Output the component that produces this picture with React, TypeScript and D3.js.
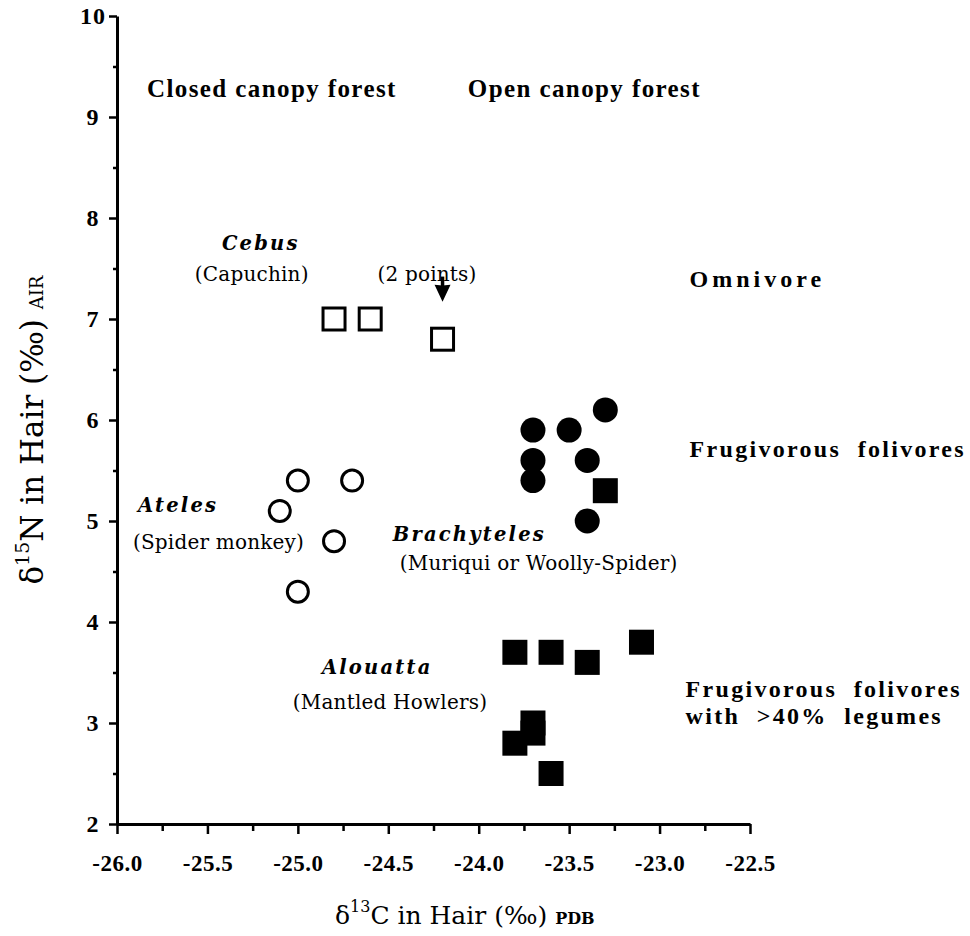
import React, { useEffect, useRef } from "react";
import * as d3 from "d3";

// Isotope values: [d13C, d15N]
const cebus: [number, number][] = [
  [-24.8, 7.0],
  [-24.6, 7.0],
  [-24.2, 6.8],
];
const ateles: [number, number][] = [
  [-25.0, 5.4],
  [-24.7, 5.4],
  [-25.1, 5.1],
  [-24.8, 4.8],
  [-25.0, 4.3],
];
const brachyteles: [number, number][] = [
  [-23.7, 5.9],
  [-23.5, 5.9],
  [-23.3, 6.1],
  [-23.7, 5.6],
  [-23.4, 5.6],
  [-23.7, 5.4],
  [-23.4, 5.0],
];
const brachytelesSquare: [number, number][] = [[-23.3, 5.3]];
const alouatta: [number, number][] = [
  [-23.8, 3.7],
  [-23.6, 3.7],
  [-23.4, 3.6],
  [-23.1, 3.8],
  [-23.7, 3.0],
  [-23.7, 2.9],
  [-23.8, 2.8],
  [-23.6, 2.5],
];

const xMajor = [-26.0, -25.5, -25.0, -24.5, -24.0, -23.5, -23.0, -22.5];
const xMinor = [-25.75, -25.25, -24.75, -24.25, -23.75, -23.25, -22.75];
const yMajor = [2, 3, 4, 5, 6, 7, 8, 9, 10];
const yMinor = [2.5, 3.5, 4.5, 5.5, 6.5, 7.5, 8.5, 9.5];

// annotation texts: [text, x, y, kind]
type Kind = "head" | "genus" | "common" | "diet";
const labels: [string, number, number, Kind][] = [
  ["Closed canopy forest", -25.834, 9.2, "head"],
  ["Open canopy forest", -24.06, 9.2, "head"],
  ["Cebus", -25.42, 7.68, "genus"],
  ["(Capuchin)", -25.57, 7.38, "common"],
  ["(2 points)", -24.56, 7.38, "common"],
  ["Omnivore", -22.834, 7.32, "diet"],
  ["Frugivorous  folivores", -22.834, 5.63, "diet"],
  ["Ateles", -25.884, 5.09, "genus"],
  ["(Spider monkey)", -25.912, 4.72, "common"],
  ["Brachyteles", -24.475, 4.8, "genus"],
  ["(Muriqui or Woolly-Spider)", -24.436, 4.51, "common"],
  ["Alouatta", -24.867, 3.485, "genus"],
  ["(Mantled Howlers)", -25.028, 3.14, "common"],
  ["Frugivorous  folivores", -22.856, 3.257, "diet"],
  ["with  >40%  legumes", -22.856, 2.99, "diet"],
];

const serif = "'DejaVu Serif', serif";
const times = "'Liberation Serif', 'Times New Roman', serif";

const App: React.FC = () => {
  const svgRef = useRef<SVGSVGElement | null>(null);

  useEffect(() => {
    if (!svgRef.current) return;
    const svg = d3.select(svgRef.current);
    svg.selectAll("*").remove();

    const x = d3.scaleLinear().domain([-26, -22.5]).range([117, 750]);
    const y = d3.scaleLinear().domain([2, 10]).range([824, 16]);

    svg.append("rect").attr("width", 970).attr("height", 936).attr("fill", "#fff");

    // x axis
    const gx = svg.append("g").attr("transform", `translate(0,${y(2)})`);
    gx.call(
      d3.axisBottom(x).tickValues(xMinor).tickSize(7).tickFormat(() => "")
    );
    gx.call((g) => g.selectAll(".domain").remove());
    const gx2 = svg.append("g").attr("transform", `translate(0,${y(2)})`);
    gx2.call(
      d3
        .axisBottom(x)
        .tickValues(xMajor)
        .tickSize(10)
        .tickSizeOuter(0)
        .tickFormat((d) => (d as number).toFixed(1))
    );
    gx2
      .selectAll("text")
      .attr("y", 47)
      .attr("dy", 0)
      .style("font-family", times)
      .style("font-weight", "bold")
      .style("font-size", "23px")
      .style("letter-spacing", "0.5px")
      .style("fill", "#000");

    // y axis
    const gy = svg.append("g").attr("transform", `translate(${x(-26)},0)`);
    gy.call(d3.axisLeft(y).tickValues(yMinor).tickSize(4).tickFormat(() => ""));
    gy.call((g) => g.selectAll(".domain").remove());
    const gy2 = svg.append("g").attr("transform", `translate(${x(-26)},0)`);
    gy2.call(
      d3
        .axisLeft(y)
        .tickValues(yMajor)
        .tickSize(8)
        .tickSizeOuter(0)
        .tickFormat((d) => String(d))
    );
    gy2
      .selectAll("text")
      .attr("x", -24)
      .attr("text-anchor", "middle")
      .style("font-family", times)
      .style("font-weight", "bold")
      .style("font-size", "24px")
      .style("letter-spacing", "1px")
      .style("fill", "#000");

    svg.selectAll(".domain").attr("stroke", "#000").attr("stroke-width", 3);
    svg.selectAll(".tick line").attr("stroke", "#000").attr("stroke-width", 2.5);

    // markers
    const sq = 22;
    svg
      .append("g")
      .selectAll("rect")
      .data(cebus)
      .join("rect")
      .attr("x", (d) => x(d[0]) - sq / 2)
      .attr("y", (d) => y(d[1]) - sq / 2)
      .attr("width", sq)
      .attr("height", sq)
      .attr("fill", "#fff")
      .attr("stroke", "#000")
      .attr("stroke-width", 3);

    svg
      .append("g")
      .selectAll("circle")
      .data(ateles)
      .join("circle")
      .attr("cx", (d) => x(d[0]))
      .attr("cy", (d) => y(d[1]))
      .attr("r", 10.5)
      .attr("fill", "#fff")
      .attr("stroke", "#000")
      .attr("stroke-width", 3);

    svg
      .append("g")
      .selectAll("circle")
      .data(brachyteles)
      .join("circle")
      .attr("cx", (d) => x(d[0]))
      .attr("cy", (d) => y(d[1]))
      .attr("r", 12.5)
      .attr("fill", "#000");

    const fs = 25;
    svg
      .append("g")
      .selectAll("rect")
      .data([...brachytelesSquare, ...alouatta])
      .join("rect")
      .attr("x", (d) => x(d[0]) - fs / 2)
      .attr("y", (d) => y(d[1]) - fs / 2)
      .attr("width", fs)
      .attr("height", fs)
      .attr("fill", "#000");

    // arrow for "(2 points)"
    const ax = x(-24.2);
    svg
      .append("line")
      .attr("x1", ax)
      .attr("x2", ax)
      .attr("y1", y(7.42))
      .attr("y2", y(7.3))
      .attr("stroke", "#000")
      .attr("stroke-width", 3.5);
    svg
      .append("path")
      .attr(
        "d",
        `M${ax - 8},${y(7.34)} L${ax},${y(7.38) + 5} L${ax + 8},${y(7.34)} L${ax},${y(7.17)} Z`
      )
      .attr("fill", "#000");

    // annotations
    const style: Record<Kind, { family: string; size: number; weight: string; italic: boolean; ls: number }> = {
      head: { family: times, size: 25, weight: "bold", italic: false, ls: 1.4 },
      genus: { family: serif, size: 19.5, weight: "bold", italic: true, ls: 2.2 },
      common: { family: serif, size: 20, weight: "normal", italic: false, ls: 0.2 },
      diet: { family: times, size: 24, weight: "bold", italic: false, ls: 2.3 },
    };
    svg
      .append("g")
      .selectAll("text")
      .data(labels)
      .join("text")
      .attr("x", (d) => x(d[1]))
      .attr("y", (d) => y(d[2]))
      .style("white-space", "pre")
      .style("font-family", (d) => style[d[3]].family)
      .style("font-size", (d) => `${style[d[3]].size}px`)
      .style("font-weight", (d) => style[d[3]].weight)
      .style("font-style", (d) => (style[d[3]].italic ? "italic" : "normal"))
      .style("letter-spacing", (d) =>
        d[0] === "Omnivore" ? "4px" : `${style[d[3]].ls}px`
      )
      .text((d) => d[0]);

    // axis titles
    const xt = svg
      .append("text")
      .attr("x", 335)
      .attr("y", 924)
      .style("font-family", serif)
      .style("font-size", "25px")
      .style("white-space", "pre");
    xt.append("tspan").text("δ");
    xt.append("tspan").attr("dy", -12).style("font-size", "16px").text("13");
    xt.append("tspan").attr("dy", 12).text("C in Hair (‰) ");
    xt.append("tspan").style("font-size", "16px").style("font-weight", "bold").text("PDB");

    const yt = svg
      .append("text")
      .attr("transform", `translate(43,${y(5.9)}) rotate(-90)`)
      .attr("text-anchor", "middle")
      .style("font-family", serif)
      .style("font-size", "31px")
      .style("white-space", "pre");
    yt.append("tspan").text("δ");
    yt.append("tspan").attr("dy", -14).style("font-size", "19px").text("15");
    yt.append("tspan").attr("dy", 14).text("N in Hair (‰) ");
    yt.append("tspan").style("font-size", "18px").text("AIR");
  }, []);

  return (
    <svg
      ref={svgRef}
      width={970}
      height={936}
      style={{ position: "absolute", left: 0, top: 0 }}
    ></svg>
  );
};

export default App;
